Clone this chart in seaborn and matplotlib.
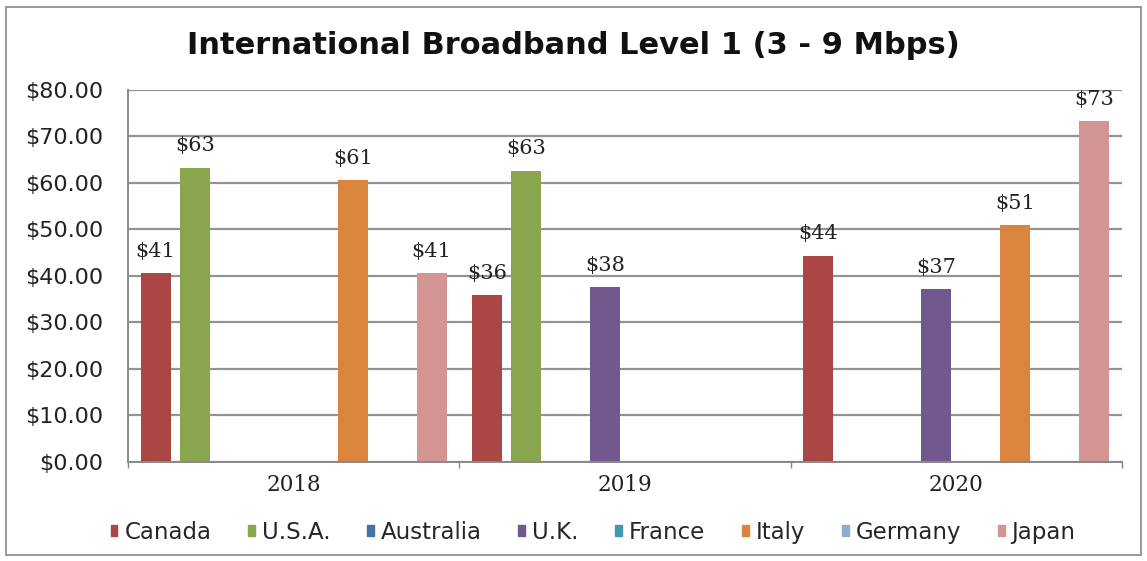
import numpy as np
import pandas as pd
import matplotlib
matplotlib.use("Agg")
import matplotlib.pyplot as plt
import seaborn as sns
from matplotlib.patches import Rectangle

years = ["2018", "2019", "2020"]
countries = ["Canada", "U.S.A.", "Australia", "U.K.", "France", "Italy", "Germany", "Japan"]
canada = [40.6, 35.9, 44.4]
usa = [63.3, 62.6, np.nan]
australia = [np.nan, np.nan, np.nan]
uk = [np.nan, 37.6, 37.1]
france = [np.nan, np.nan, np.nan]
italy = [60.6, np.nan, 50.9]
germany = [np.nan, np.nan, np.nan]
japan = [40.6, np.nan, 73.3]
colors = ["#AA4643", "#89A54E", "#4572A7", "#71588F", "#4198AF", "#DB843D", "#93A9CF", "#D39494"]

series = [canada, usa, australia, uk, france, italy, germany, japan]
rows = []
for c, vals in zip(countries, series):
    for y, v in zip(years, vals):
        rows.append({"Year": y, "Country": c, "Price": v})
df = pd.DataFrame(rows)

sns.set_theme(style="white")
plt.rcParams["font.family"] = ["DejaVu Sans"]

fig = plt.figure(figsize=(11.47, 5.61), dpi=100)
ax = fig.add_axes([0.1116, 0.1765, 0.8664, 0.6631])

sns.barplot(data=df, x="Year", y="Price", hue="Country", hue_order=countries,
            order=years, palette=colors, width=0.952, gap=0.24, ax=ax,
            saturation=1, errorbar=None, legend=False, linewidth=0)

for cont in ax.containers:
    labels = ["" if np.isnan(v) else "${:.0f}".format(v) for v in cont.datavalues]
    ax.bar_label(cont, labels=labels, padding=9, fontsize=15,
                 family="DejaVu Serif", color="#222222")

ax.set_ylim(0, 80)
ax.set_xlim(-0.5, 2.5)
ax.set_yticks(np.arange(0, 81, 10))
ax.set_yticklabels(["${:.2f}".format(v) for v in np.arange(0, 81, 10)], fontsize=16, color="#222222")
ax.set_xticks(range(3))
ax.set_xticklabels(years, family="DejaVu Serif", fontsize=15.5, color="#222222")
ax.set_xticks([-0.5, 0.5, 1.5, 2.5], minor=True)
ax.tick_params(axis="x", which="major", length=0, pad=9)
ax.tick_params(axis="x", which="minor", length=4, color="#888888", direction="out", bottom=True)
ax.tick_params(axis="y", length=0, pad=18)
ax.set_xlabel("")
ax.set_ylabel("")
ax.yaxis.grid(True, color="#939393", linewidth=1.6)
ax.set_axisbelow(True)
for s in ["top", "right"]:
    ax.spines[s].set_visible(False)
for s in ["left", "bottom"]:
    ax.spines[s].set_color("#888888")
    ax.spines[s].set_linewidth(1.4)

fig.suptitle("International Broadband Level 1 (3 - 9 Mbps)", y=0.945, fontsize=22,
             fontweight="bold", color="#111111")

handles = [Rectangle((0, 0), 1, 1, color=c) for c in colors]
fig.legend(handles, countries, loc="lower center", bbox_to_anchor=(0.517, -0.006), ncol=8,
           frameon=False, fontsize=16.5, handlelength=0.3, handleheight=0.3,
           handletextpad=0.3, columnspacing=1.6)

fig.add_artist(Rectangle((0.005, 0.01), 0.99, 0.978, transform=fig.transFigure,
                         fill=False, edgecolor="#888888", linewidth=1.2))

fig.savefig("out.png", dpi=100, facecolor="white")
